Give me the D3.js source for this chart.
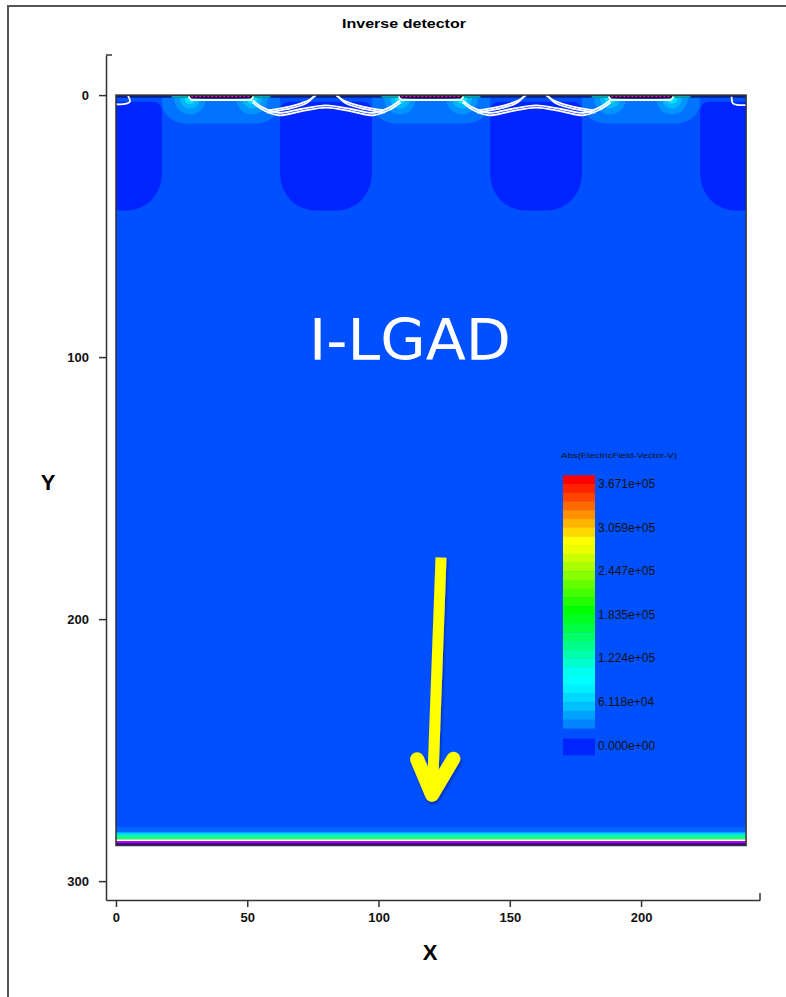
<!doctype html>
<html lang="en">
<head>
<meta charset="UTF-8">
<title>Inverse detector</title>
<style>
  body { margin: 0; background: #fff; }
  .axis text { font: bold 13px "Liberation Sans", Arial, sans-serif; fill: #111; }
  .axis line, .axis path { stroke: #333; stroke-width: 1.5; }
</style>
</head>
<body>
<script src="https://cdn.jsdelivr.net/npm/d3@7"></script>
<script>
// ---- data (µm) ----
var xTicks = [0, 50, 100, 150, 200];
var yTicks = [0, 100, 200, 300];
var deviceWidth = 240, deviceDepth = 286.4;

var padCenters = [40, 120, 200];          // gain implants / electrodes
var padHalf = 11.8;
var blobCenters = [0, 80, 160, 240];      // low-field regions between pads
var blobHalf = 17.5, blobTop = 2.5, blobBottom = 44;
var gapCenters = [80, 160];

// white junction contours, relative to gap centre
var wavyProfile = [[-28, 1.9], [-24, 4.8], [-18, 6.8], [-10, 5.4], [0, 3.9], [10, 5.4], [18, 6.8], [24, 4.8], [28.4, 1.9]];
var arcProfile = [[-3.7, 0], [-7, 2.2], [-14, 4.4], [-22, 5.8]];
var edgeHookLeft = [[4.6, 0.3], [5.3, 2.5], [3.5, 3.4], [0, 3.5]];
var edgeHookRight = [[234.5, 0.6], [235, 3.2], [237, 3.8], [240, 3.8]];

// bottom layers: tops (µm) and colours
var bottomTops = [279.4, 281.4, 282.3, 283.2, 284.1, 284.7, 285.5];
var bottomColors = ["#0068ff", "#00d4ff", "#00ffb4", "#30ff5a", "#ffffff", "#b400e6", "#3c0096"];

// colour bar
var cbColors = ["#ff0000", "#ff2200", "#ff4400", "#ff6a00", "#ff9000", "#ffb400", "#ffd800", "#ffff00",
  "#eeff00", "#ccff00", "#aaff00", "#88ff00", "#66ff00", "#44ff00", "#22ff00", "#00ff00",
  "#00ff22", "#00ff44", "#00ff66", "#00ff88", "#00ffaa", "#00ffcc", "#00ffee", "#00ffff",
  "#00f0ff", "#00d8ff", "#00c0ff", "#00a2ff", "#0084ff"];
var cbValues = [0, 61180, 122400, 183500, 244700, 305900, 367100];
var cbLabels = ["0.000e+00", "6.118e+04", "1.224e+05", "1.835e+05", "2.447e+05", "3.059e+05", "3.671e+05"];

// arrow annotation (µm)
var arrowShaft = [[123.8, 176.5], [120.6, 264]];
var arrowHead = [[114.7, 253.5], [120.4, 267], [128.5, 253.3]];

var width = 786, height = 997;

var svg = d3.select("body").append("svg")
  .attr("width", width).attr("height", height);

var x = d3.scaleLinear().domain([-3.8, 245.3]).range([106, 760]);
var y = d3.scaleLinear().domain([-15.3, 307.2]).range([55, 900]);
var kx = x(1) - x(0), ky = y(1) - y(0);

// outer frame
svg.append("path").attr("d", "M8,997V6H786")
  .attr("fill", "none").attr("stroke", "#555").attr("stroke-width", 2);

svg.append("text").attr("x", 404).attr("y", 28)
  .attr("text-anchor", "middle")
  .style("font", "bold 13px 'Liberation Sans', Arial, sans-serif")
  .attr("textLength", 124).attr("lengthAdjust", "spacingAndGlyphs")
  .text("Inverse detector");

// ---- device field map ----
var defs = svg.append("defs");
defs.append("clipPath").attr("id", "dev").append("rect")
  .attr("x", x(0)).attr("y", y(0))
  .attr("width", x(deviceWidth) - x(0)).attr("height", y(deviceDepth) - y(0));

var shadow = defs.append("filter").attr("id", "shadow")
  .attr("x", "-50%").attr("y", "-20%").attr("width", "200%").attr("height", "140%");
shadow.append("feDropShadow").attr("dx", 1).attr("dy", 2).attr("stdDeviation", 1.5)
  .attr("flood-color", "#001060").attr("flood-opacity", 0.6);

var dev = svg.append("g").attr("clip-path", "url(#dev)");

dev.append("rect")
  .attr("x", x(0)).attr("y", y(0))
  .attr("width", x(deviceWidth) - x(0)).attr("height", y(deviceDepth) - y(0))
  .attr("fill", "#0050ff");

// lighter field under pads
dev.selectAll("rect.light").data(padCenters).enter().append("rect")
  .attr("class", "light")
  .attr("x", function(d){ return x(d - 22.5); })
  .attr("y", y(-6))
  .attr("width", 45 * kx).attr("height", 16.8 * ky)
  .attr("rx", 9 * kx).attr("ry", 8 * ky)
  .attr("fill", "#0074ff");

// low-field blobs: small top corners, wide rounded bottom
function blobPath(c) {
  var l = x(c - blobHalf), r = x(c + blobHalf), t = y(blobTop), b = y(blobBottom);
  var rt = 4 * kx, rx = 0.75 * blobHalf * kx, ry = 14 * ky;
  return "M" + l + "," + (t + rt) +
    "Q" + l + "," + t + " " + (l + rt) + "," + t +
    "H" + (r - rt) +
    "Q" + r + "," + t + " " + r + "," + (t + rt) +
    "V" + (b - ry) +
    "A" + rx + "," + ry + " 0 0 1 " + (r - rx) + "," + b +
    "H" + (l + rx) +
    "A" + rx + "," + ry + " 0 0 1 " + l + "," + (b - ry) + "Z";
}
dev.selectAll("path.blob").data(blobCenters).enter().append("path")
  .attr("class", "blob")
  .attr("d", blobPath)
  .attr("fill", "#0024ff");

// hot spots at pad edges
var padEdges = [];
padCenters.forEach(function(c){ padEdges.push(c - padHalf, c + padHalf); });
[[6, "#0094ff"], [3.8, "#00b8ff"], [2, "#00e4ff"]].forEach(function(s){
  dev.selectAll(null).data(padEdges).enter().append("circle")
    .attr("cx", function(d){ return x(d); }).attr("cy", y(1.3))
    .attr("r", s[0] * kx).attr("fill", s[1]);
});

// top oxide strip
dev.append("rect").attr("x", x(0)).attr("y", y(0))
  .attr("width", x(deviceWidth) - x(0)).attr("height", 1.0 * ky)
  .attr("fill", "#0a1e80");
dev.selectAll("rect.ox").data(padEdges).enter().append("rect")
  .attr("class", "ox")
  .attr("x", function(d, i){ return i % 2 ? x(d) : x(d - 7); })
  .attr("y", y(0.2)).attr("width", 7 * kx).attr("height", 0.8 * ky)
  .attr("fill", "#00a8a8");

// pads
dev.selectAll("rect.pad").data(padCenters).enter().append("rect")
  .attr("class", "pad")
  .attr("x", function(d){ return x(d - padHalf); }).attr("y", y(0))
  .attr("width", 2 * padHalf * kx).attr("height", 1.1 * ky)
  .attr("fill", "#200030").attr("stroke", "#000").attr("stroke-width", 0.8);
dev.selectAll("line.padline").data(padCenters).enter().append("line")
  .attr("class", "padline")
  .attr("x1", function(d){ return x(d - padHalf + 0.5); })
  .attr("x2", function(d){ return x(d + padHalf - 0.5); })
  .attr("y1", y(0.55)).attr("y2", y(0.55))
  .attr("stroke", "#ff00ff").attr("stroke-width", 1.3).attr("stroke-dasharray", "2,2");

var line = d3.line().x(function(p){ return x(p[0]); }).y(function(p){ return y(p[1]); });
var curve = d3.line().x(function(p){ return x(p[0]); }).y(function(p){ return y(p[1]); })
  .curve(d3.curveCatmullRom);

dev.selectAll("path.padwhite").data(padCenters).enter().append("path")
  .attr("class", "padwhite")
  .attr("d", function(c){
    return line([[c - padHalf - 0.6, 0.6], [c - padHalf + 0.5, 1.9], [c + padHalf - 0.5, 1.9], [c + padHalf + 0.6, 0.6]]);
  })
  .attr("fill", "none").attr("stroke", "#fff").attr("stroke-width", 2);

// junction contours
var contours = [];
gapCenters.forEach(function(g){
  [0, 0.9].forEach(function(o){
    contours.push(wavyProfile.map(function(p){ return [g + p[0], p[1] + o]; }));
    contours.push(arcProfile.map(function(p, i){ return [g + p[0] - o * 0.6, p[1] + (i ? o : 0)]; }));
    contours.push(arcProfile.map(function(p, i){ return [g - p[0] + o * 0.6, p[1] + (i ? o : 0)]; }));
  });
});
contours.push(edgeHookLeft, edgeHookRight);
dev.selectAll("path.contour").data(contours).enter().append("path")
  .attr("class", "contour")
  .attr("d", curve)
  .attr("fill", "none").attr("stroke", "#fff").attr("stroke-width", 1.8);

// bottom layers
dev.selectAll("rect.bl").data(bottomTops).enter().append("rect")
  .attr("class", "bl")
  .attr("x", x(0)).attr("width", x(deviceWidth) - x(0))
  .attr("y", function(d){ return y(d); })
  .attr("height", function(d, i){
    var next = i + 1 < bottomTops.length ? bottomTops[i + 1] : deviceDepth;
    return y(next) - y(d) + 0.3;
  })
  .attr("fill", function(d, i){ return bottomColors[i]; });

// device outline
svg.append("rect")
  .attr("x", x(0)).attr("y", y(0))
  .attr("width", x(deviceWidth) - x(0)).attr("height", y(deviceDepth) - y(0))
  .attr("fill", "none").attr("stroke", "#333").attr("stroke-width", 1.5);

// label
svg.append("text")
  .attr("x", x(112)).attr("y", y(101))
  .attr("text-anchor", "middle")
  .style("font", "57px 'DejaVu Sans', Verdana, sans-serif")
  .attr("textLength", 202).attr("lengthAdjust", "spacingAndGlyphs")
  .attr("fill", "#fff")
  .text("I-LGAD");

// arrow
var arrow = svg.append("g").attr("filter", "url(#shadow)");
arrow.append("path").attr("d", line(arrowShaft))
  .attr("stroke", "#ffff00").attr("stroke-width", 11).attr("fill", "none");
arrow.append("path").attr("d", line(arrowHead))
  .attr("stroke", "#ffff00").attr("stroke-width", 14).attr("fill", "none")
  .attr("stroke-linecap", "round").attr("stroke-linejoin", "round");

// ---- colour bar ----
var cbY = d3.scaleLinear().domain([0, 367100]).range([745.7, 484]);
var band = 367100 / 30;
var cbX = 563, cbW = 32;

svg.append("text").attr("x", 561).attr("y", 458)
  .style("font", "8px 'Liberation Sans', Arial, sans-serif")
  .attr("textLength", 116).attr("lengthAdjust", "spacingAndGlyphs")
  .attr("fill", "#111")
  .text("Abs(ElectricField-Vector-V)");

svg.selectAll("rect.cb").data(cbColors).enter().append("rect")
  .attr("class", "cb")
  .attr("x", cbX).attr("width", cbW)
  .attr("y", function(d, i){ return cbY((31 - i) * band); })
  .attr("height", cbY(0) - cbY(band) + 0.4)
  .attr("fill", function(d){ return d; });

svg.append("rect").attr("x", cbX).attr("width", cbW)
  .attr("y", cbY(band * 0.82)).attr("height", cbY(-band * 1.1) - cbY(band * 0.82))
  .attr("fill", "#0024ff");

svg.selectAll("text.cbl").data(cbValues).enter().append("text")
  .attr("class", "cbl")
  .attr("x", 598).attr("y", function(d){ return cbY(d) + 4; })
  .style("font", "12px 'Liberation Sans', Arial, sans-serif")
  .attr("fill", "#111")
  .text(function(d, i){ return cbLabels[i]; });

// ---- axes ----
var gx = svg.append("g").attr("class", "axis")
  .attr("transform", "translate(0," + y(307.2) + ")")
  .call(d3.axisBottom(x).tickValues(xTicks).tickSize(7).tickSizeOuter(0).tickPadding(6));
gx.append("line").attr("x1", x(245.3)).attr("x2", x(245.3)).attr("y1", 0).attr("y2", -7);

var gy = svg.append("g").attr("class", "axis")
  .attr("transform", "translate(" + x(-3.8) + ",0)")
  .call(d3.axisLeft(y).tickValues(yTicks).tickSize(7).tickSizeOuter(0).tickPadding(10));
gy.append("line").attr("x1", 0).attr("x2", 6).attr("y1", y(-15.3)).attr("y2", y(-15.3));

svg.append("text").attr("x", 430).attr("y", 960)
  .attr("text-anchor", "middle")
  .style("font", "bold 22px 'Liberation Sans', Arial, sans-serif")
  .text("X");
svg.append("text").attr("x", 48).attr("y", 490)
  .attr("text-anchor", "middle")
  .style("font", "bold 22px 'Liberation Sans', Arial, sans-serif")
  .text("Y");
</script>
</body>
</html>
